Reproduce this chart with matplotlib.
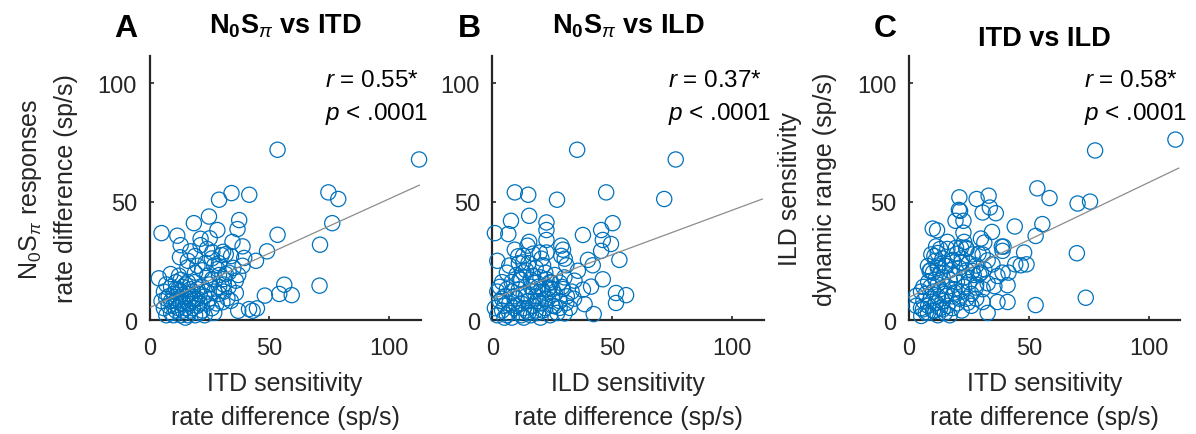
import matplotlib
matplotlib.use("Agg")
import matplotlib.pyplot as plt
import numpy as np
from matplotlib import font_manager

# ---------------- data ----------------
# Panel A: ITD sensitivity (x) vs N0Spi responses (y)
a_x = [53.4, 112.4, 34.2, 29.0, 41.6, 74.6, 78.7, 76.2, 71.1, 70.9, 53.4, 49.0, 56.2, 54.1, 59.3,
       48.1, 44.8, 43.0, 41.5, 37.0, 5.0, 11.6, 13.0, 18.5, 24.8, 28.3, 37.4, 36.7, 21.3, 25.1,
       21.3, 34.6, 38.8, 30.7, 31.8, 30.1, 26.2, 12.7, 20.0, 23.4, 39.5, 38.8, 44.4, 28.3, 31.8,
       31.1, 15.8, 8.8, 3.9, 12.3, 26.2, 24.1, 36.0, 36.0, 32.5, 30.4, 33.9,
       6, 7, 8, 9, 10, 11, 12, 13, 14, 15, 16, 17, 18, 19, 20, 21, 22, 23, 24, 7, 9, 11, 13, 15,
       17, 19, 21, 10, 12, 14, 16, 18, 20, 22, 8, 10, 12, 14, 16, 18, 20, 24, 26, 25, 9, 11, 13,
       15, 17, 19, 6, 7, 27, 28, 23, 5, 15, 21, 25, 13, 16, 11, 27, 29, 29, 31, 33, 19,
       27, 29, 31, 33, 35, 37, 26, 29, 34, 24, 19, 17, 16, 22]
a_y = [71.9, 67.8, 53.6, 50.8, 52.9, 53.9, 51.1, 40.9, 31.8, 14.5, 36.0, 29.0, 14.9, 11.0, 10.5,
       10.3, 4.9, 3.9, 4.6, 3.9, 36.7, 35.6, 31.6, 40.9, 43.7, 38.0, 42.2, 38.4, 34.3, 34.5,
       31.6, 33.0, 31.1, 28.8, 27.8, 27.4, 28.6, 26.5, 22.9, 24.1, 26.2, 22.9, 25.0, 21.5, 19.4,
       17.3, 22.2, 19.4, 17.6, 18.7, 17.3, 18.7, 16.6, 11.4, 9.2, 7.5, 8.1,
       12, 9, 6, 3, 11, 8, 5, 2, 14, 10, 7, 4, 12, 9, 6, 3, 14, 10, 7, 15, 14, 13, 12, 15,
       13, 16, 11, 6, 9, 7, 11, 5, 9, 4, 10, 2, 13, 4, 2, 8, 13, 12, 5, 9, 8, 4, 7,
       5, 9, 2, 5, 2, 12, 7, 2, 8, 1, 7, 15, 17, 16, 16, 3, 11, 14, 12, 14, 20,
       23, 19, 15, 20, 22, 19, 26, 24, 27, 30, 27, 29, 25, 21]

# Panel B: ILD sensitivity (x) vs N0Spi responses (y)
b_x = [35.3, 76.4, 71.6, 47.4, 9.3, 14.9, 26.9, 50.1, 1.0, 6.6, 7.7, 15.3, 22.5, 22.5, 22.5,
       37.7, 45.3, 46.0, 45.3, 49.4, 52.9, 15.3, 14.6, 28.7, 29.4, 9.3, 10.7, 12.8, 12.8, 16.9,
       19.7, 22.5, 20.4, 21.1, 28.7, 30.1, 30.8, 39.8, 41.8, 35.6, 12.8, 11.4, 16.9, 18.3, 22.5,
       24.5, 23.8, 20.4, 28.0, 29.4, 34.2, 46.0, 37.7, 41.1, 51.5, 51.5, 55.7, 38.4, 42.2, 30.8,
       32.2, 30.1, 28.0, 26.0,
       2, 3, 4, 5, 6, 7, 8, 9, 10, 11, 12, 13, 14, 15, 16, 17, 18, 19, 20, 21, 22, 23, 24, 25,
       3, 5, 7, 9, 11, 13, 15, 17, 19, 21, 23, 1, 2, 4, 6, 8, 10, 12, 14, 16, 18, 20, 22, 26,
       27, 28, 29, 31, 4, 8, 12, 16, 20, 24, 6, 10, 14, 18, 22, 26, 30, 2, 7, 11, 15, 5, 13,
       19, 25, 33, 34]
b_y = [71.9, 67.8, 51.1, 53.9, 53.9, 52.9, 50.8, 40.9, 36.7, 36.3, 41.9, 44.0, 41.2, 38.0, 33.8,
       35.9, 38.0, 33.8, 29.2, 32.1, 25.4, 33.0, 31.4, 31.4, 29.7, 29.7, 26.9, 27.1, 24.3, 28.0,
       28.5, 28.5, 25.9, 23.1, 27.1, 25.9, 23.1, 25.4, 23.1, 20.8, 20.1, 17.2, 18.6, 15.8, 17.2,
       15.8, 13.7, 13.1, 15.8, 13.1, 16.6, 17.2, 12.8, 14.1, 11.4, 7.2, 10.5, 6.7, 2.5, 7.2,
       5.1, 2.8, 5.1, 5.8,
       12, 8, 4, 10, 2, 7, 12, 5, 9, 3, 7, 11, 4, 8, 2, 6, 10, 3, 7, 12, 5, 9, 2, 6,
       14, 6, 3, 10, 13, 5, 3, 12, 8, 4, 13, 5, 2, 9, 13, 1, 6, 2, 10, 14, 4, 1, 9, 11,
       3, 8, 14, 10, 16, 16, 17, 17, 18, 16, 20, 19, 21, 22, 20, 19, 18, 25, 23, 24, 24, 1, 1,
       14, 13, 12, 9]

# Panel C: ITD sensitivity (x) vs ILD dynamic range (y)
c_x = [111.1, 77.6, 53.5, 58.6, 70.3, 75.5, 70.0, 73.7, 21.0, 28.2, 33.2, 20.8, 21.3, 30.7, 33.7,
       36.2, 19.4, 22.7, 9.9, 11.7, 22.7, 34.6, 44.1, 55.6, 52.8, 30.0, 31.4, 38.7, 39.0, 39.4,
       48.0, 44.3, 46.6, 49.0, 19.6, 21.7, 23.8, 11.3, 12.0, 9.3, 10.6, 26.5, 30.7, 32.8, 7.9,
       8.6, 12.0, 15.5, 18.3, 21.7, 26.5, 29.3, 31.4, 34.8, 36.9, 39.0, 41.5, 32.8, 35.6, 41.1,
       27.9, 30.7, 24.5, 30.7, 36.9, 41.1, 32.8, 52.8, 19.0, 15.5, 11.3, 14.1, 5.8, 5.1, 7.9,
       10.6, 3.0,
       5, 6, 7, 7, 8, 9, 9, 10, 10, 11, 11, 12, 12, 13, 13, 13, 14, 14, 15, 15, 16, 16, 17, 17,
       18, 18, 19, 19, 20, 20, 21, 21, 22, 22, 23, 23, 24, 24, 25, 25, 26, 27, 28, 28, 29, 30,
       8, 10, 12, 14, 16, 6, 9, 11, 5, 3, 15, 18, 20, 22, 24, 17, 12, 26, 28, 16, 23, 13]
c_y = [76.2, 71.6, 55.6, 51.5, 49.2, 50.0, 28.2, 9.4, 51.8, 51.1, 52.5, 46.5, 46.1, 45.4, 47.5,
       45.1, 41.9, 41.9, 38.6, 37.9, 36.9, 37.2, 39.5, 40.5, 35.5, 34.4, 32.7, 31.0, 29.2, 31.0,
       28.5, 23.5, 23.1, 23.5, 30.5, 30.5, 30.5, 31.1, 28.3, 27.7, 27.0, 27.7, 27.7, 25.2, 22.8,
       20.7, 22.0, 22.8, 25.4, 24.2, 20.7, 19.3, 21.4, 23.5, 18.6, 20.0, 20.0, 15.5, 14.3, 14.7,
       13.7, 13.0, 7.3, 7.6, 7.6, 7.6, 3.0, 6.3, 11.6, 10.2, 7.3, 4.5, 4.5, 1.7, 3.1,
       3.8, 10.2,
       5, 8, 3, 11, 6, 9, 14, 4, 12, 7, 17, 10, 15, 5, 13, 20, 8, 18, 11, 23, 14, 6, 17, 21,
       10, 25, 13, 19, 16, 28, 22, 9, 12, 26, 18, 14, 21, 30, 16, 24, 11, 19, 23, 15, 28, 20,
       16, 20, 23, 26, 30, 14, 21, 25, 12, 6, 3, 5, 7, 4, 9, 2, 2, 6, 9, 33, 33, 30]

# fitted regression lines (slope, intercept) and statistics
fit_a = (0.460, 5.2)
fit_b = (0.375, 8.9)
fit_c = (0.485, 9.6)
r_vals = ["0.55", "0.37", "0.58"]
p_text = "< .0001"
titles = [r"$\mathbf{N_0S}_{\pi}$ vs ITD", r"$\mathbf{N_0S}_{\pi}$ vs ILD", "ITD vs ILD"]
letters = ["A", "B", "C"]
xlabels = [("ITD sensitivity", "rate difference (sp/s)"),
           ("ILD sensitivity", "rate difference (sp/s)"),
           ("ITD sensitivity", "rate difference (sp/s)")]
ylabels = [(r"N$_0$S$_\pi$ responses", "rate difference (sp/s)"), None,
           ("ILD sensitivity", "dynamic range (sp/s)")]
ticks = [0, 50, 100]

# ---------------- style ----------------
avail = {f.name for f in font_manager.fontManager.ttflist}
narrow = "Liberation Sans Narrow" if "Liberation Sans Narrow" in avail else "Liberation Sans"
plt.rcParams["font.family"] = [narrow, "DejaVu Sans"]
plt.rcParams["mathtext.fontset"] = "custom"
plt.rcParams["mathtext.rm"] = narrow
plt.rcParams["mathtext.it"] = narrow + ":italic"
plt.rcParams["mathtext.bf"] = "Liberation Sans:bold"

blue = "#0072BD"
dark = "#262626"

fig = plt.figure(figsize=(11.96, 4.35), dpi=100)
W, H = 1196, 435
ax_left_px = [149.5, 492.5, 909.0]
ax_w_px = 271
ax_top_px, ax_bot_px = 57, 321

datasets = [(a_x, a_y, fit_a), (b_x, b_y, fit_b), (c_x, c_y, fit_c)]
for i, (xs, ys, fit) in enumerate(datasets):
    ax = fig.add_axes([ax_left_px[i] / W, 1 - ax_bot_px / H, ax_w_px / W,
                       (ax_bot_px - ax_top_px) / H])
    ax.scatter(xs, ys, s=120, facecolors="none", edgecolors=blue, linewidths=0.9, zorder=3,
               clip_on=False)
    xl = np.array([0, 112.5])
    ax.plot(xl, fit[0] * xl + fit[1], color="#8c8c8c", lw=0.9, zorder=4)
    ax.set_xlim(0, 113)
    ax.set_ylim(0, 111.5)
    ax.set_xticks(ticks)
    ax.set_yticks(ticks)
    for s in ["top", "right"]:
        ax.spines[s].set_visible(False)
    for s in ["left", "bottom"]:
        ax.spines[s].set_linewidth(1.6)
        ax.spines[s].set_color(dark)
    ax.tick_params(direction="in", length=3, width=1.2, color=dark, labelsize=17,
                   labelcolor=dark)
    ax.tick_params(axis="x", pad=12)
    ax.tick_params(axis="y", pad=9)
    # statistics annotation
    ax.text(73, 99, r"$\it{r}$ = " + r_vals[i] + "*", fontsize=17.5, family="Liberation Sans",
            color="black", va="baseline", ha="left", zorder=5)
    ax.text(73, 85, r"$\it{p}$ " + p_text, fontsize=17.5, family="Liberation Sans",
            color="black", va="baseline", ha="left", zorder=5)
    # x label (two lines)
    cx = (ax_left_px[i] + ax_w_px / 2) / W
    fig.text(cx, 1 - 384 / H, xlabels[i][0], fontsize=18, ha="center", va="center", color=dark)
    fig.text(cx, 1 - 418 / H, xlabels[i][1], fontsize=18, ha="center", va="center", color=dark)
    # y label
    if ylabels[i] is not None:
        off1, off2 = 119, 84
        fig.text((ax_left_px[i] - off1) / W, 1 - 189 / H, ylabels[i][0], fontsize=18,
                 rotation=90, ha="center", va="center", color=dark)
        fig.text((ax_left_px[i] - off2) / W, 1 - 189 / H, ylabels[i][1], fontsize=18,
                 rotation=90, ha="center", va="center", color=dark)
    # title
    ty = 33 if i < 2 else 46
    fig.text(cx, 1 - ty / H, titles[i], fontsize=19.5, fontweight="bold",
             family="Liberation Sans", ha="center", va="baseline", color="black")
    # panel letter
    fig.text((ax_left_px[i] - 35) / W, 1 - 37 / H, letters[i], fontsize=23, fontweight="bold",
             family="Liberation Sans", ha="left", va="baseline", color="black")

fig.savefig("out.png", dpi=100)
